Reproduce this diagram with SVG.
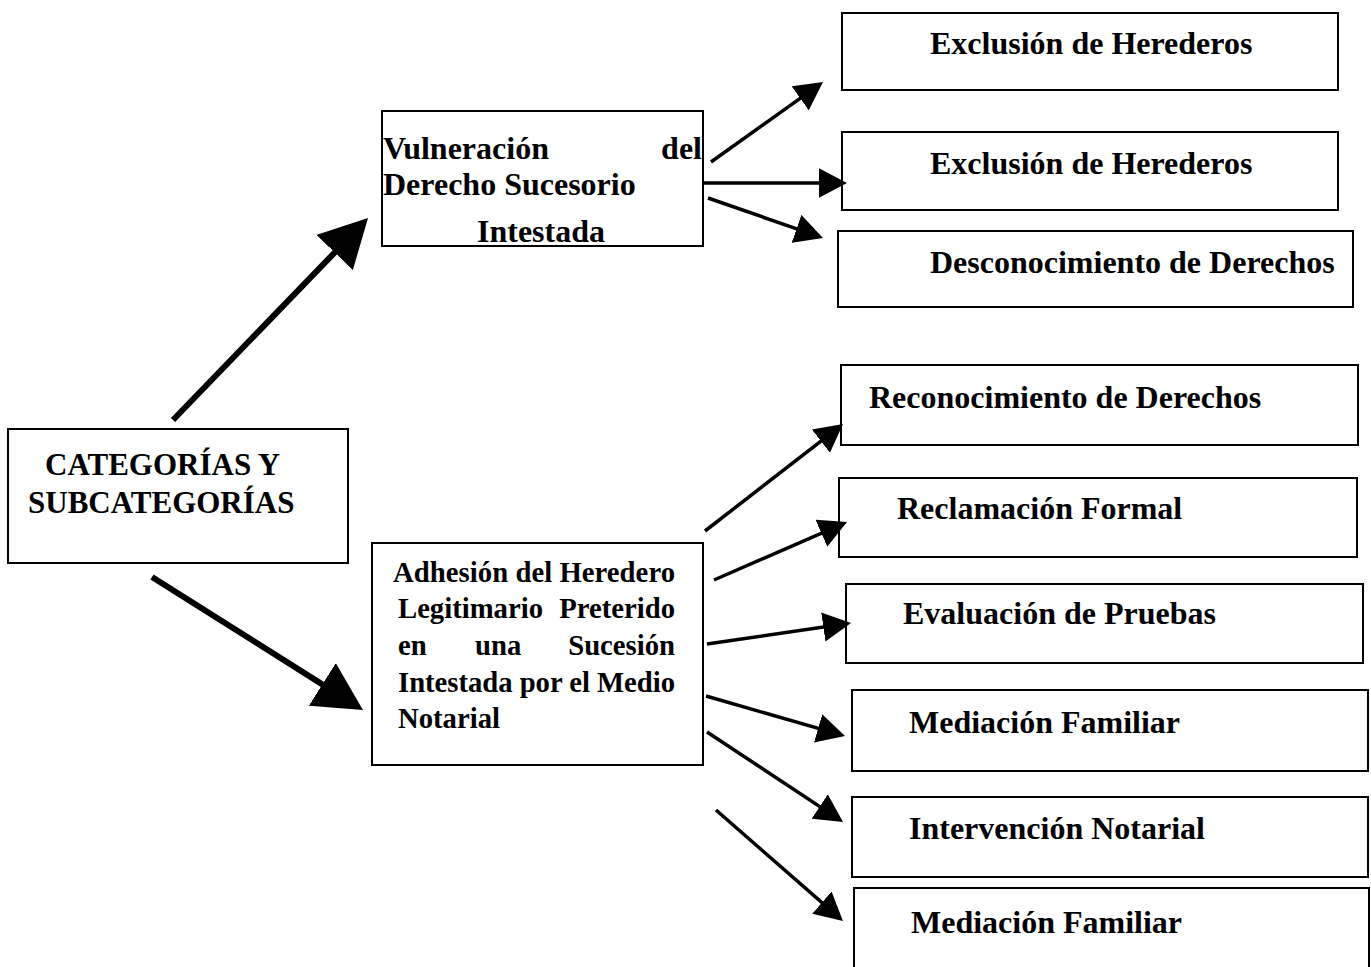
<svg xmlns="http://www.w3.org/2000/svg" width="1371" height="967" viewBox="0 0 1371 967">
<style>
.box{fill:#fff;stroke:#000;stroke-width:2}
.t{font-family:"Liberation Serif","Times New Roman",serif;font-weight:bold;fill:#000}
.r{font-size:32px}
.c{stroke:#000;fill:none;marker-end:url(#ah)}
.thin{stroke-width:3.5}
.thick{stroke-width:6}
</style>
<defs>
<marker id="ah" viewBox="0 0 8 8.4" markerWidth="8" markerHeight="8.4" refX="6" refY="4.2" orient="auto" markerUnits="strokeWidth">
<path d="M0,0 L8,4.2 L0,8.4 z" fill="#000"/>
</marker>
</defs>
<rect width="1371" height="967" fill="#fff"/>

<g id="n-categorias">
<rect class="box" x="8" y="429" width="340" height="134"/>
<text class="t" font-size="31" x="45" y="475">CATEGORÍAS Y</text>
<text class="t" font-size="31" x="28" y="513">SUBCATEGORÍAS</text>
</g>

<g id="n-vulneracion">
<rect class="box" x="382" y="111" width="321" height="135"/>
<text class="t" font-size="32" x="383" y="159">Vulneración</text>
<text class="t" font-size="32" x="702" y="159" text-anchor="end">del</text>
<text class="t" font-size="32" x="383" y="195">Derecho Sucesorio</text>
<text class="t" font-size="32" x="477" y="242">Intestada</text>
</g>

<g id="n-adhesion">
<rect class="box" x="372" y="543" width="331" height="222"/>
<text class="t" font-size="28.7" x="393" y="582" textLength="282" lengthAdjust="spacing">Adhesión del Heredero</text>
<text class="t" font-size="28.7" x="398" y="618">Legitimario</text>
<text class="t" font-size="28.7" x="675" y="618" text-anchor="end">Preterido</text>
<text class="t" font-size="28.7" x="398" y="655">en</text>
<text class="t" font-size="28.7" x="475" y="655">una</text>
<text class="t" font-size="28.7" x="675" y="655" text-anchor="end">Sucesión</text>
<text class="t" font-size="28.7" x="398" y="692" textLength="277" lengthAdjust="spacing">Intestada por el Medio</text>
<text class="t" font-size="28.7" x="398" y="728">Notarial</text>
</g>

<g id="n-exclusion1">
<rect class="box" x="842" y="13" width="496" height="77"/>
<text class="t r" x="930" y="54">Exclusión de Herederos</text>
</g>
<g id="n-exclusion2">
<rect class="box" x="842" y="132" width="496" height="78"/>
<text class="t r" x="930" y="174">Exclusión de Herederos</text>
</g>
<g id="n-desconocimiento">
<rect class="box" x="838" y="231" width="515" height="76"/>
<text class="t r" x="930" y="273">Desconocimiento de Derechos</text>
</g>
<g id="n-reconocimiento">
<rect class="box" x="841" y="365" width="517" height="80"/>
<text class="t r" x="869" y="408">Reconocimiento de Derechos</text>
</g>
<g id="n-reclamacion">
<rect class="box" x="839" y="478" width="518" height="79"/>
<text class="t r" x="897" y="519">Reclamación Formal</text>
</g>
<g id="n-evaluacion">
<rect class="box" x="846" y="584" width="517" height="79"/>
<text class="t r" x="903" y="624">Evaluación de Pruebas</text>
</g>
<g id="n-mediacion1">
<rect class="box" x="852" y="690" width="516" height="81"/>
<text class="t r" x="909" y="733">Mediación Familiar</text>
</g>
<g id="n-intervencion">
<rect class="box" x="852" y="797" width="516" height="80"/>
<text class="t r" x="909" y="839">Intervención Notarial</text>
</g>
<g id="n-mediacion2">
<rect class="box" x="854" y="888" width="515" height="90"/>
<text class="t r" x="911" y="933">Mediación Familiar</text>
</g>

<g id="connectors">
<line class="c thick" x1="173" y1="420" x2="359.7" y2="226.6"/>
<line class="c thick" x1="152" y1="577" x2="352.8" y2="703.6"/>
<line class="c thin" x1="711" y1="162" x2="817.3" y2="86.1"/>
<line class="c thin" x1="703" y1="183" x2="840" y2="183"/>
<line class="c thin" x1="708" y1="198" x2="816.4" y2="235.7"/>
<line class="c thin" x1="705" y1="531" x2="837.5" y2="428.3"/>
<line class="c thin" x1="714" y1="580" x2="840.6" y2="524.8"/>
<line class="c thin" x1="707" y1="644" x2="844.1" y2="624"/>
<line class="c thin" x1="706" y1="696" x2="838.3" y2="734.1"/>
<line class="c thin" x1="707" y1="732" x2="837.2" y2="818.1"/>
<line class="c thin" x1="716" y1="810" x2="837.7" y2="916.4"/>
</g>
</svg>
